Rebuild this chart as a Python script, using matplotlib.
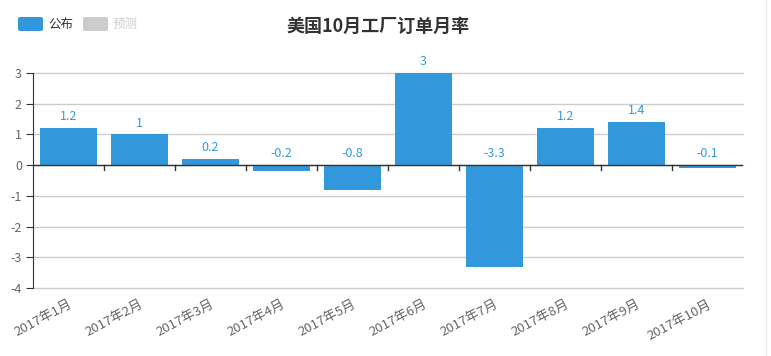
import matplotlib
matplotlib.use("Agg")
import matplotlib.pyplot as plt
from matplotlib.patches import FancyBboxPatch
from matplotlib.lines import Line2D

plt.rcParams['font.family'] = ['Noto Sans CJK SC', 'DejaVu Sans']

categories = ["2017年1月", "2017年2月", "2017年3月", "2017年4月", "2017年5月",
              "2017年6月", "2017年7月", "2017年8月", "2017年9月", "2017年10月"]
values = [1.2, 1, 0.2, -0.2, -0.8, 3, -3.3, 1.2, 1.4, -0.1]
yticks = [-4, -3, -2, -1, 0, 1, 2, 3]
title = "美国10月工厂订单月率"
legend_labels = ["公布", "预测"]

blue = "#3398DB"
W, H = 771, 356
fig = plt.figure(figsize=(W / 100, H / 100), dpi=100)
ax = fig.add_axes([33 / W, 1 - 288 / H, (743 - 33) / W, (288 - 73) / H])

x = list(range(len(categories)))
ax.bar(x, values, width=0.8, color=blue, zorder=3)
ax.set_xlim(-0.5, len(categories) - 0.5)
ax.set_ylim(-4, 3)
ax.set_yticks(yticks)
ax.set_yticklabels([str(t) for t in yticks], color="#666666", fontsize=9)
for t in yticks:
    ax.axhline(t, color="#cccccc", linewidth=1, zorder=0, clip_on=False)
for s in ['top', 'right', 'bottom']:
    ax.spines[s].set_visible(False)
ax.spines['left'].set_color("#333333")
ax.tick_params(axis='y', length=5, color="#333333", pad=3)

# category axis along zero
ax.axhline(0, color="#333333", linewidth=1, zorder=4)
for b in range(1, len(categories)):
    ax.plot([b - 0.5, b - 0.5], [0, -0.15], color="#333333", linewidth=1, zorder=4, clip_on=False)

ax.set_xticks(x)
ax.set_xticklabels(categories, rotation=28, ha='right', rotation_mode='anchor',
                   color="#666666", fontsize=9.5)
ax.tick_params(axis='x', length=0, pad=7)

for xi, v in zip(x, values):
    top = max(v, 0)
    ax.annotate(str(v), (xi, top), xytext=(0, 3.5), textcoords='offset points',
                ha='center', va='bottom', color=blue, fontsize=9, zorder=5)

fig.text(378 / W, 1 - 26 / H, title, ha='center', va='center', fontsize=13,
         fontweight='bold', color="#333333")

# legend
for i, (lab, col, tcol, x0) in enumerate([(legend_labels[0], blue, "#333333", 18),
                                          (legend_labels[1], "#cccccc", "#cccccc", 83)]):
    p = FancyBboxPatch((x0 / W, 1 - 31 / H), 25 / W, 14 / H,
                       boxstyle="round,pad=0,rounding_size=0.004",
                       transform=fig.transFigure, facecolor=col, edgecolor='none')
    fig.patches.append(p)
    fig.text((x0 + 30) / W, 1 - 24.5 / H, lab, ha='left', va='center',
             fontsize=9, color=tcol)

fig.add_artist(Line2D([765.5 / W, 765.5 / W], [0, 1], transform=fig.transFigure,
                      color="#eeeeee", linewidth=1))

fig.savefig("out.png", dpi=100, facecolor="white")
